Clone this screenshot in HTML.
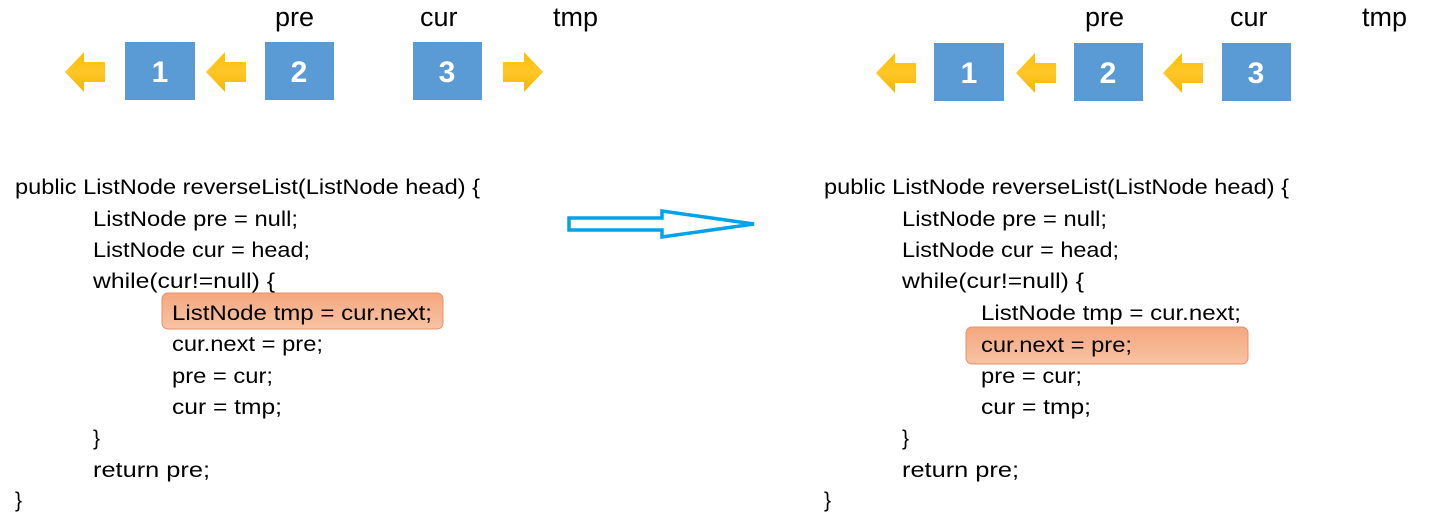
<!DOCTYPE html>
<html><head><meta charset="utf-8"><style>
html,body{margin:0;padding:0;background:#fff;}
svg{display:block;}
text{font-family:"Liberation Sans",sans-serif;}
.c{font-size:21px;fill:#000;}
.l{font-size:27px;fill:#000;}
.n{font-size:30px;font-weight:bold;fill:#fff;}
</style></head><body>
<svg width="1445" height="531" viewBox="0 0 1445 531" xmlns="http://www.w3.org/2000/svg">
<defs>
<linearGradient id="hg" x1="0" y1="0" x2="0" y2="1"><stop offset="0" stop-color="#F4A77E"/><stop offset="1" stop-color="#F8C3A4"/></linearGradient>
<linearGradient id="yg" x1="0" y1="0" x2="0" y2="1"><stop offset="0" stop-color="#FFC000"/><stop offset="0.5" stop-color="#FFC628"/><stop offset="1" stop-color="#F2B700"/></linearGradient>
<symbol id="la" viewBox="0 0 40 40"><polygon points="0,20 19,0 19,10 40,10 40,30 19,30 19,40" fill="url(#yg)"/></symbol>
<symbol id="ra" viewBox="0 0 40 40"><polygon points="40,20 21,0 21,10 0,10 0,30 21,30 21,40" fill="url(#yg)"/></symbol>
</defs>

<text class="l" x="275" y="26">pre</text>
<text class="l" x="420" y="26">cur</text>
<text class="l" x="553" y="26">tmp</text>
<use href="#la" x="65" y="52" width="40" height="40"/>
<rect x="125" y="42" width="70" height="58" fill="#5B9BD5"/><text class="n" x="160" y="82" text-anchor="middle">1</text>
<use href="#la" x="206" y="52" width="40" height="40"/>
<rect x="265" y="42" width="69" height="58" fill="#5B9BD5"/><text class="n" x="299" y="82" text-anchor="middle">2</text>
<rect x="413" y="42" width="69" height="58" fill="#5B9BD5"/><text class="n" x="447" y="82" text-anchor="middle">3</text>
<use href="#ra" x="503" y="52" width="40" height="40"/>

<text class="l" x="1085" y="26">pre</text>
<text class="l" x="1230" y="26">cur</text>
<text class="l" x="1362" y="26">tmp</text>
<use href="#la" x="876" y="53" width="40" height="40"/>
<rect x="934" y="43" width="70" height="58" fill="#5B9BD5"/><text class="n" x="969" y="83" text-anchor="middle">1</text>
<use href="#la" x="1016" y="53" width="40" height="40"/>
<rect x="1074" y="43" width="69" height="58" fill="#5B9BD5"/><text class="n" x="1108" y="83" text-anchor="middle">2</text>
<use href="#la" x="1163" y="53" width="40" height="40"/>
<rect x="1222" y="43" width="69" height="58" fill="#5B9BD5"/><text class="n" x="1256" y="83" text-anchor="middle">3</text>

<polygon points="569,218 662,218 662,211 754,224 662,237 662,230 569,230" fill="none" stroke="#00A2E8" stroke-width="3.5" stroke-linejoin="miter"/>

<rect x="162" y="293" width="281" height="36" rx="6" fill="url(#hg)" stroke="#E8906A" stroke-width="1"/>
<rect x="966" y="327" width="282" height="37" rx="6" fill="url(#hg)" stroke="#E8906A" stroke-width="1"/>

<g>
<text class="c" x="15" y="194" textLength="465" lengthAdjust="spacingAndGlyphs">public ListNode reverseList(ListNode head) {</text>
<text class="c" x="93" y="226" textLength="205" lengthAdjust="spacingAndGlyphs">ListNode pre = null;</text>
<text class="c" x="93" y="257" textLength="217" lengthAdjust="spacingAndGlyphs">ListNode cur = head;</text>
<text class="c" x="93" y="288" textLength="182" lengthAdjust="spacingAndGlyphs">while(cur!=null) {</text>
<text class="c" x="172" y="320" textLength="260" lengthAdjust="spacingAndGlyphs">ListNode tmp = cur.next;</text>
<text class="c" x="172" y="351" textLength="151" lengthAdjust="spacingAndGlyphs">cur.next = pre;</text>
<text class="c" x="172" y="383" textLength="101" lengthAdjust="spacingAndGlyphs">pre = cur;</text>
<text class="c" x="172" y="414" textLength="110" lengthAdjust="spacingAndGlyphs">cur = tmp;</text>
<text class="c" x="93" y="445">}</text>
<text class="c" x="93" y="477" textLength="117" lengthAdjust="spacingAndGlyphs">return pre;</text>
<text class="c" x="15" y="507">}</text>
</g>

<g>
<text class="c" x="824" y="194" textLength="465" lengthAdjust="spacingAndGlyphs">public ListNode reverseList(ListNode head) {</text>
<text class="c" x="902" y="226" textLength="205" lengthAdjust="spacingAndGlyphs">ListNode pre = null;</text>
<text class="c" x="902" y="257" textLength="217" lengthAdjust="spacingAndGlyphs">ListNode cur = head;</text>
<text class="c" x="902" y="288" textLength="182" lengthAdjust="spacingAndGlyphs">while(cur!=null) {</text>
<text class="c" x="981" y="320" textLength="260" lengthAdjust="spacingAndGlyphs">ListNode tmp = cur.next;</text>
<text class="c" x="981" y="352" textLength="151" lengthAdjust="spacingAndGlyphs">cur.next = pre;</text>
<text class="c" x="981" y="383" textLength="101" lengthAdjust="spacingAndGlyphs">pre = cur;</text>
<text class="c" x="981" y="414" textLength="110" lengthAdjust="spacingAndGlyphs">cur = tmp;</text>
<text class="c" x="902" y="445">}</text>
<text class="c" x="902" y="477" textLength="117" lengthAdjust="spacingAndGlyphs">return pre;</text>
<text class="c" x="824" y="507">}</text>
</g>
</svg>
</body></html>
